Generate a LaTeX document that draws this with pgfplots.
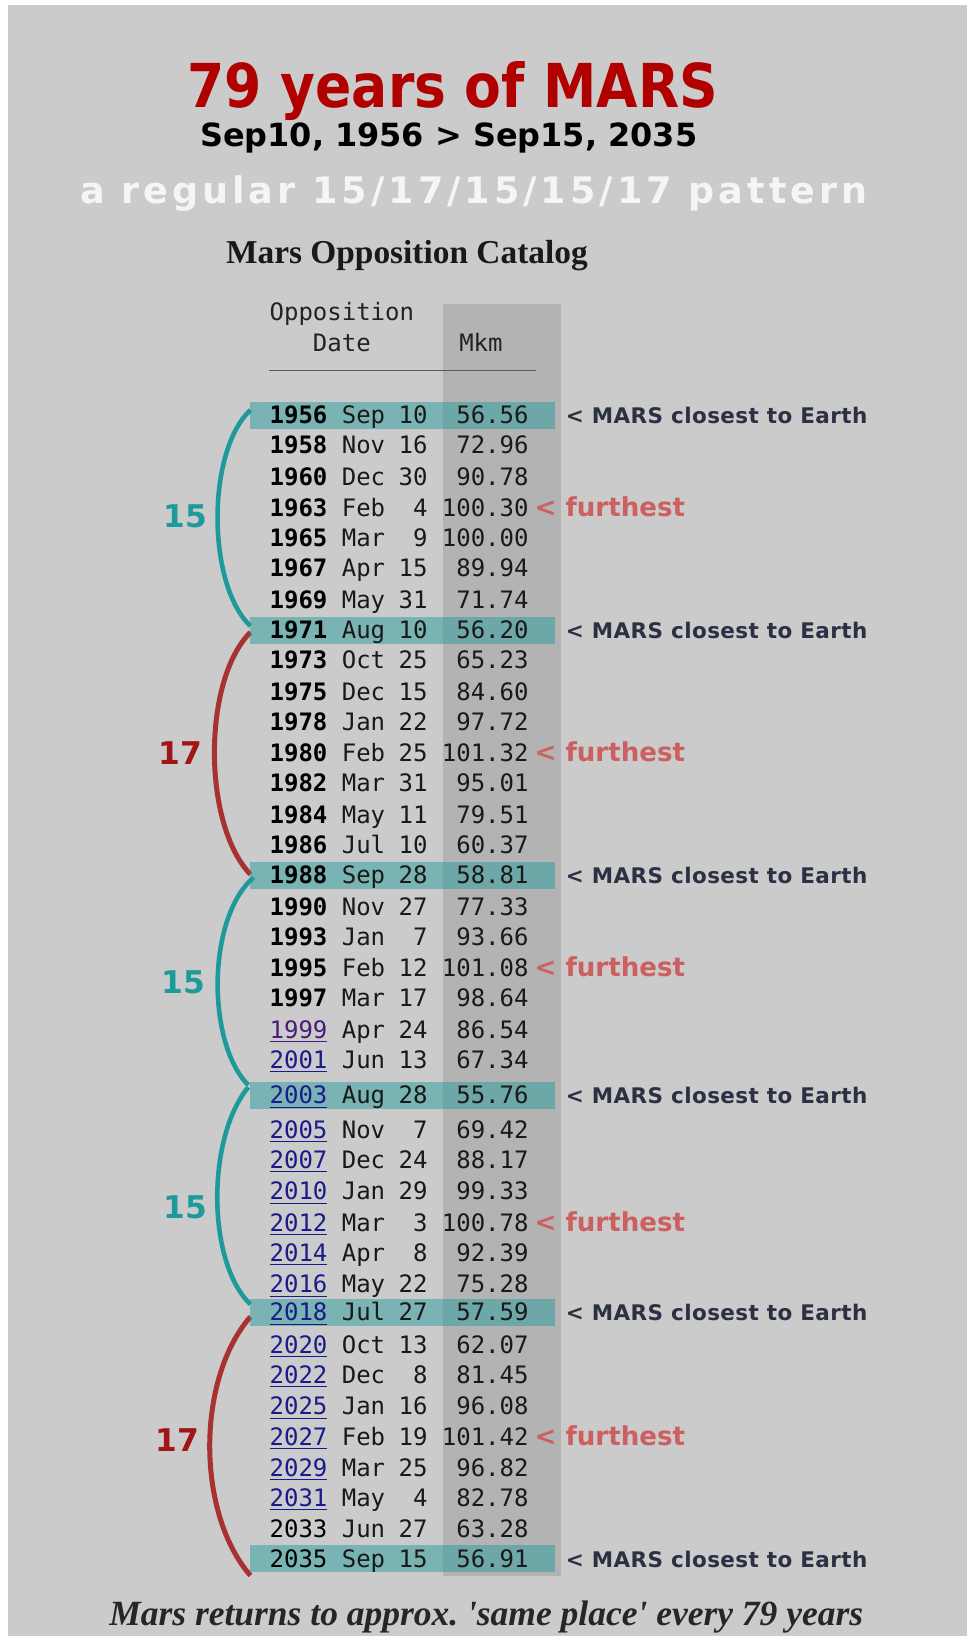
\documentclass[border=0pt]{standalone}
\usepackage{pgfplots}
\pgfplotsset{compat=1.18}
\usepackage{pgfplotstable}
\usepackage{fontspec}
\setmainfont{DejaVu Sans}
\setmonofont{DejaVu Sans Mono}
\newfontfamily\titlefont[FakeStretch=0.885]{DejaVu Sans}
\newfontfamily\widefont[LetterSpace=11]{DejaVu Sans}
\newfontfamily\notefont[LetterSpace=2]{DejaVu Sans}
\newfontfamily\catfont{Liberation Serif}

\definecolor{bg}{HTML}{CBCBCB}
\definecolor{colgray}{HTML}{B3B3B3}
\definecolor{hiteal}{HTML}{2A9D9D}
\definecolor{braceteal}{HTML}{1E9A9A}
\definecolor{bracered}{HTML}{A83232}
\definecolor{numred}{HTML}{A01515}
\definecolor{titlered}{HTML}{B00000}
\definecolor{labelnavy}{HTML}{2B3142}
\definecolor{furthest}{HTML}{CC5F5F}
\definecolor{linkblue}{HTML}{1A1A8A}
\definecolor{linkvisited}{HTML}{4B1A7A}
\definecolor{hdr}{HTML}{222222}

% highlight bar behind a "closest" row
\pgfdeclareplotmark{hirow}{%
  \pgfpathrectangle{\pgfpoint{-73pt}{-6.5pt}}{\pgfpoint{146pt}{13pt}}%
  \pgfusepathqfill}

\newcommand\rowfont{\fontsize{11.5}{13}\selectfont\ttfamily}

% ypos = text baseline (picture px)
% kind: 0 bold year, 1 link, 2 visited link, 3 plain
% note: 1 closest, 2 furthest
\pgfplotstableread{
ypos year mon day mkm kind note
406  1956 Sep 10 56.56  0 1
435  1958 Nov 16 72.96  0 0
465  1960 Dec 30 90.78  0 0
495  1963 Feb 4  100.30 0 2
524  1965 Mar 9  100.00 0 0
553  1967 Apr 15 89.94  0 0
583  1969 May 31 71.74  0 0
612  1971 Aug 10 56.20  0 1
641  1973 Oct 25 65.23  0 0
671  1975 Dec 15 84.60  0 0
700  1978 Jan 22 97.72  0 0
730  1980 Feb 25 101.32 0 2
759  1982 Mar 31 95.01  0 0
789  1984 May 11 79.51  0 0
818  1986 Jul 10 60.37  0 0
847  1988 Sep 28 58.81  0 1
877  1990 Nov 27 77.33  0 0
906  1993 Jan 7  93.66  0 0
936  1995 Feb 12 101.08 0 2
965  1997 Mar 17 98.64  0 0
995  1999 Apr 24 86.54  2 0
1024 2001 Jun 13 67.34  1 0
1058 2003 Aug 28 55.76  1 1
1091 2005 Nov 7  69.42  1 0
1120 2007 Dec 24 88.17  1 0
1150 2010 Jan 29 99.33  1 0
1180 2012 Mar 3  100.78 1 2
1209 2014 Apr 8  92.39  1 0
1239 2016 May 22 75.28  1 0
1266 2018 Jul 27 57.59  1 1
1297 2020 Oct 13 62.07  1 0
1326 2022 Dec 8  81.45  1 0
1356 2025 Jan 16 96.08  1 0
1385 2027 Feb 19 101.42 1 2
1415 2029 Mar 25 96.82  1 0
1444 2031 May 4  82.78  1 0
1474 2033 Jun 27 63.28  3 0
1502 2035 Sep 15 56.91  3 1
}\opp

\begin{document}
\begin{tikzpicture}
\begin{axis}[
  scale only axis,
  width=463.5pt, height=784pt,
  xmin=0, xmax=927, ymin=0, ymax=1568,
  y dir=reverse,
  enlargelimits=false,
  hide axis,
  every node near coord/.append style={inner sep=0pt},
]
% backdrop
\fill[white] (axis cs:0,0) rectangle (axis cs:927,1568);
\fill[bg] (axis cs:8,5) rectangle (axis cs:927,1568);
\fill[colgray] (axis cs:425,291) rectangle (axis cs:538,1510);

% closest rows highlighted
\addplot[only marks, mark=hirow,
  mark options={fill=hiteal, fill opacity=0.5, draw=none},
  restrict expr to domain={\thisrow{note}}{1:1}]
  table[x expr=386, y expr=\thisrow{ypos}-8] {\opp};

% header
\draw[line width=0.8pt, color=black!65] (axis cs:258,355) -- (axis cs:514,355);
\node[anchor=base west, inner sep=0pt, font=\rowfont, text=hdr] at (axis cs:258,307) {Opposition};
\node[anchor=base west, inner sep=0pt, font=\rowfont, text=hdr] at (axis cs:299.5,337) {Date};
\node[anchor=base west, inner sep=0pt, font=\rowfont, text=hdr] at (axis cs:439.8,337) {Mkm};

% year, one plot per style
\addplot[draw=none, mark=none, point meta=explicit symbolic,
  restrict expr to domain={\thisrow{kind}}{0:0},
  nodes near coords={\textbf{\pgfplotspointmeta}},
  every node near coord/.append style={anchor=base west, font=\rowfont, text=black}]
  table[x expr=258, y=ypos, meta=year] {\opp};
\addplot[draw=none, mark=none, point meta=explicit symbolic,
  restrict expr to domain={\thisrow{kind}}{1:1},
  nodes near coords={\underline{\pgfplotspointmeta}},
  every node near coord/.append style={anchor=base west, font=\rowfont, text=linkblue}]
  table[x expr=258, y=ypos, meta=year] {\opp};
\addplot[draw=none, mark=none, point meta=explicit symbolic,
  restrict expr to domain={\thisrow{kind}}{2:2},
  nodes near coords={\underline{\pgfplotspointmeta}},
  every node near coord/.append style={anchor=base west, font=\rowfont, text=linkvisited}]
  table[x expr=258, y=ypos, meta=year] {\opp};
\addplot[draw=none, mark=none, point meta=explicit symbolic,
  restrict expr to domain={\thisrow{kind}}{3:3},
  nodes near coords,
  every node near coord/.append style={anchor=base west, font=\rowfont, text=black}]
  table[x expr=258, y=ypos, meta=year] {\opp};
% month
\addplot[draw=none, mark=none, point meta=explicit symbolic,
  nodes near coords,
  every node near coord/.append style={anchor=base west, font=\rowfont, text=black!90}]
  table[x expr=327.2, y=ypos, meta=mon] {\opp};
% day
\addplot[draw=none, mark=none, point meta=explicit symbolic,
  nodes near coords,
  every node near coord/.append style={anchor=base east, font=\rowfont, text=black!90}]
  table[x expr=410.1, y=ypos, meta=day] {\opp};
% distance, million km
\addplot[draw=none, mark=none, point meta=explicit symbolic,
  nodes near coords,
  every node near coord/.append style={anchor=base east, font=\rowfont, text=black!90}]
  table[x expr=507, y=ypos, meta=mkm] {\opp};

% notes
\addplot[draw=none, mark=none, point meta=explicit symbolic,
  restrict expr to domain={\thisrow{note}}{1:1},
  nodes near coords={< MARS closest to Earth},
  every node near coord/.append style={anchor=base west, text=labelnavy,
    font=\notefont\bfseries\fontsize{10.3}{12}\selectfont}]
  table[x expr=542, y=ypos, meta=year] {\opp};
\addplot[draw=none, mark=none, point meta=explicit symbolic,
  restrict expr to domain={\thisrow{note}}{2:2},
  nodes near coords={< furthest},
  every node near coord/.append style={anchor=base west, text=furthest,
    font=\bfseries\fontsize{12.5}{13}\selectfont}]
  table[x expr=512, y=ypos, meta=year] {\opp};

% braces
\draw[braceteal, line width=2.2pt] (axis cs:240,393) .. controls (axis cs:198,432) and (axis cs:198,560) .. (axis cs:240,600);
\draw[bracered, line width=2.4pt] (axis cs:240,606) .. controls (axis cs:194,652) and (axis cs:194,790) .. (axis cs:240,838);
\draw[braceteal, line width=2.2pt] (axis cs:243,841) .. controls (axis cs:198,880) and (axis cs:198,1000) .. (axis cs:238,1040);
\draw[braceteal, line width=2.2pt] (axis cs:238,1042) .. controls (axis cs:198,1090) and (axis cs:198,1210) .. (axis cs:240,1250);
\draw[bracered, line width=2.4pt] (axis cs:240,1262) .. controls (axis cs:188,1322) and (axis cs:188,1450) .. (axis cs:240,1510);

\begin{scope}[every node/.style={inner sep=0pt, font=\bfseries\fontsize{15}{16}\selectfont}]
\node[text=braceteal] at (axis cs:178,495) {15};
\node[text=numred]    at (axis cs:173,722) {17};
\node[text=braceteal] at (axis cs:176,941) {15};
\node[text=braceteal] at (axis cs:178,1157) {15};
\node[text=numred]    at (axis cs:170,1380) {17};
\end{scope}

% titles
\node[anchor=base, inner sep=0pt, text=titlered,
  font=\titlefont\bfseries\fontsize{29}{30}\selectfont] at (axis cs:434,103) {79 years of MARS};
\node[anchor=base, inner sep=0pt, text=black,
  font=\bfseries\fontsize{15.3}{16}\selectfont] at (axis cs:430,140) {Sep10, 1956 > Sep15, 2035};
\node[anchor=base, inner sep=0pt, text=white!96!black,
  font=\widefont\bfseries\fontsize{17.5}{18}\selectfont] at (axis cs:454,195) {a regular 15/17/15/15/17 pattern};
\node[anchor=base, inner sep=0pt, text=black!90,
  font=\catfont\bfseries\fontsize{16}{17}\selectfont] at (axis cs:390,253) {Mars Opposition Catalog};
\node[anchor=base, inner sep=0pt, text=black!85,
  font=\catfont\bfseries\itshape\fontsize{17}{18}\selectfont] at (axis cs:466,1558)
  {\frenchspacing Mars returns to approx. \textquotesingle same place\textquotesingle{} every 79 years};
\end{axis}
\end{tikzpicture}
\end{document}
